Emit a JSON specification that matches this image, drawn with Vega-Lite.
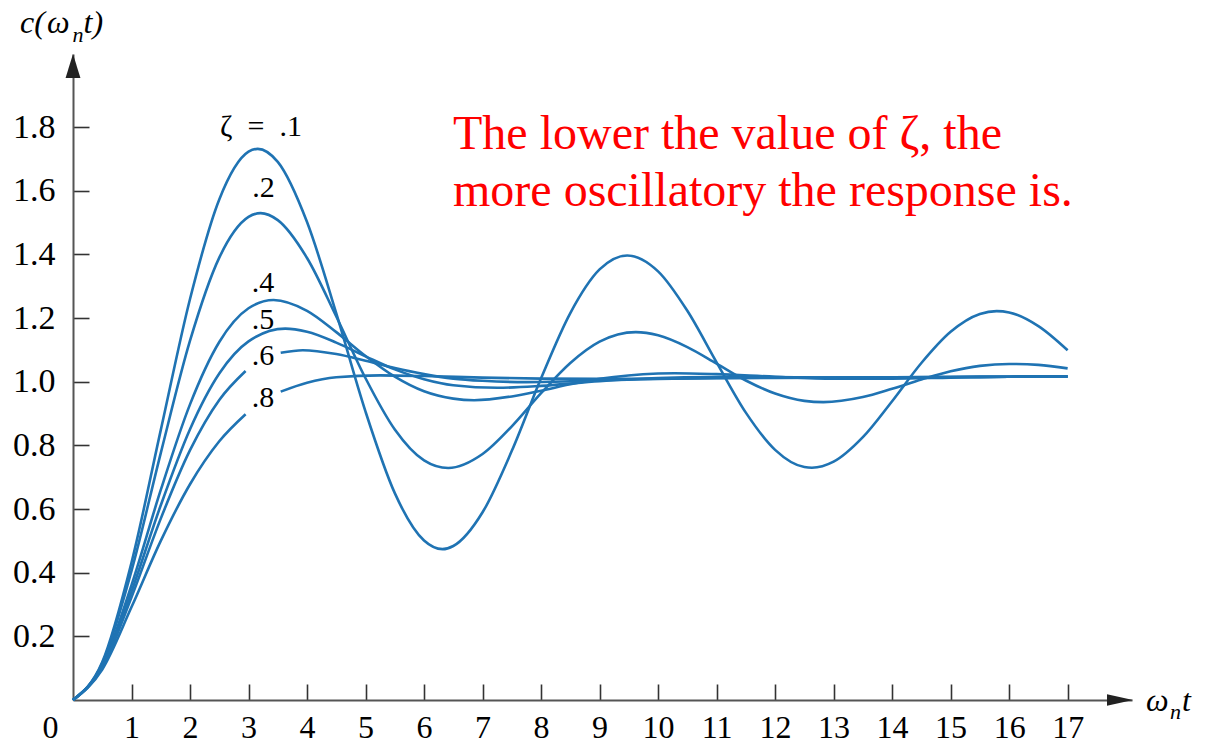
{
  "$schema": "https://vega.github.io/schema/vega-lite/v6.json",
  "width": 1059,
  "height": 646,
  "autosize": {"type": "none"},
  "padding": {"left": 73, "top": 54, "right": 89, "bottom": 46},
  "background": "#ffffff",
  "config": {"view": {"stroke": null}, "font": "Liberation Serif"},
  "datasets": {
    "curves": [
      {"curve": "0.1", "t": 0, "c": 0}, {"curve": "0.1", "t": 0.5, "c": 0.119}, {"curve": "0.1", "t": 1, "c": 0.432}, {"curve": "0.1", "t": 1.5, "c": 0.848}, {"curve": "0.1", "t": 2, "c": 1.26}, {"curve": "0.1", "t": 2.5, "c": 1.573}, {"curve": "0.1", "t": 3, "c": 1.723}, {"curve": "0.1", "t": 3.157, "c": 1.732}, {"curve": "0.1", "t": 3.5, "c": 1.691}, {"curve": "0.1", "t": 4, "c": 1.502}, {"curve": "0.1", "t": 4.5, "c": 1.215}, {"curve": "0.1", "t": 5, "c": 0.906}, {"curve": "0.1", "t": 5.5, "c": 0.65}, {"curve": "0.1", "t": 6, "c": 0.501}, {"curve": "0.1", "t": 6.315, "c": 0.474}, {"curve": "0.1", "t": 6.5, "c": 0.484}, {"curve": "0.1", "t": 7, "c": 0.59}, {"curve": "0.1", "t": 7.5, "c": 0.783}, {"curve": "0.1", "t": 8, "c": 1.011}, {"curve": "0.1", "t": 8.5, "c": 1.216}, {"curve": "0.1", "t": 9, "c": 1.353}, {"curve": "0.1", "t": 9.472, "c": 1.397}, {"curve": "0.1", "t": 10, "c": 1.347}, {"curve": "0.1", "t": 10.5, "c": 1.223}, {"curve": "0.1", "t": 11, "c": 1.061}, {"curve": "0.1", "t": 11.5, "c": 0.903}, {"curve": "0.1", "t": 12, "c": 0.786}, {"curve": "0.1", "t": 12.5, "c": 0.732}, {"curve": "0.1", "t": 12.63, "c": 0.73}, {"curve": "0.1", "t": 13, "c": 0.749}, {"curve": "0.1", "t": 13.5, "c": 0.826}, {"curve": "0.1", "t": 14, "c": 0.939}, {"curve": "0.1", "t": 14.5, "c": 1.059}, {"curve": "0.1", "t": 15, "c": 1.157}, {"curve": "0.1", "t": 15.5, "c": 1.213}, {"curve": "0.1", "t": 15.787, "c": 1.222}, {"curve": "0.1", "t": 16, "c": 1.218}, {"curve": "0.1", "t": 16.5, "c": 1.175}, {"curve": "0.1", "t": 17, "c": 1.099},
      {"curve": "0.2", "t": 0, "c": 0}, {"curve": "0.2", "t": 0.5, "c": 0.115}, {"curve": "0.2", "t": 1, "c": 0.406}, {"curve": "0.2", "t": 1.5, "c": 0.776}, {"curve": "0.2", "t": 2, "c": 1.129}, {"curve": "0.2", "t": 2.5, "c": 1.39}, {"curve": "0.2", "t": 3, "c": 1.518}, {"curve": "0.2", "t": 3.206, "c": 1.53}, {"curve": "0.2", "t": 3.5, "c": 1.508}, {"curve": "0.2", "t": 4, "c": 1.389}, {"curve": "0.2", "t": 4.5, "c": 1.205}, {"curve": "0.2", "t": 5, "c": 1.011}, {"curve": "0.2", "t": 5.5, "c": 0.85}, {"curve": "0.2", "t": 6, "c": 0.753}, {"curve": "0.2", "t": 6.413, "c": 0.729}, {"curve": "0.2", "t": 7, "c": 0.773}, {"curve": "0.2", "t": 7.5, "c": 0.86}, {"curve": "0.2", "t": 8, "c": 0.964}, {"curve": "0.2", "t": 8.5, "c": 1.059}, {"curve": "0.2", "t": 9, "c": 1.126}, {"curve": "0.2", "t": 9.619, "c": 1.156}, {"curve": "0.2", "t": 10, "c": 1.146}, {"curve": "0.2", "t": 10.5, "c": 1.109}, {"curve": "0.2", "t": 11, "c": 1.057}, {"curve": "0.2", "t": 11.5, "c": 1.004}, {"curve": "0.2", "t": 12, "c": 0.963}, {"curve": "0.2", "t": 12.5, "c": 0.94}, {"curve": "0.2", "t": 12.825, "c": 0.936}, {"curve": "0.2", "t": 13.5, "c": 0.952}, {"curve": "0.2", "t": 14, "c": 0.978}, {"curve": "0.2", "t": 14.5, "c": 1.007}, {"curve": "0.2", "t": 15, "c": 1.033}, {"curve": "0.2", "t": 15.5, "c": 1.05}, {"curve": "0.2", "t": 16, "c": 1.056}, {"curve": "0.2", "t": 16.5, "c": 1.053}, {"curve": "0.2", "t": 17, "c": 1.042},
      {"curve": "0.4", "t": 0, "c": 0}, {"curve": "0.4", "t": 0.5, "c": 0.108}, {"curve": "0.4", "t": 1, "c": 0.361}, {"curve": "0.4", "t": 1.5, "c": 0.66}, {"curve": "0.4", "t": 2, "c": 0.929}, {"curve": "0.4", "t": 2.5, "c": 1.125}, {"curve": "0.4", "t": 3, "c": 1.231}, {"curve": "0.4", "t": 3.428, "c": 1.257}, {"curve": "0.4", "t": 4, "c": 1.223}, {"curve": "0.4", "t": 4.5, "c": 1.156}, {"curve": "0.4", "t": 5, "c": 1.081}, {"curve": "0.4", "t": 5.5, "c": 1.016}, {"curve": "0.4", "t": 6, "c": 0.97}, {"curve": "0.4", "t": 6.5, "c": 0.947}, {"curve": "0.4", "t": 6.856, "c": 0.942}, {"curve": "0.4", "t": 7.5, "c": 0.954}, {"curve": "0.4", "t": 8, "c": 0.972}, {"curve": "0.4", "t": 8.5, "c": 0.992}, {"curve": "0.4", "t": 9, "c": 1.009}, {"curve": "0.4", "t": 10, "c": 1.026}, {"curve": "0.4", "t": 10.283, "c": 1.027}, {"curve": "0.4", "t": 11, "c": 1.024}, {"curve": "0.4", "t": 12, "c": 1.016}, {"curve": "0.4", "t": 13, "c": 1.01}, {"curve": "0.4", "t": 14, "c": 1.01}, {"curve": "0.4", "t": 15, "c": 1.013}, {"curve": "0.4", "t": 16, "c": 1.016}, {"curve": "0.4", "t": 17, "c": 1.017},
      {"curve": "0.5", "t": 0, "c": 0}, {"curve": "0.5", "t": 0.5, "c": 0.105}, {"curve": "0.5", "t": 1, "c": 0.341}, {"curve": "0.5", "t": 1.5, "c": 0.612}, {"curve": "0.5", "t": 2, "c": 0.851}, {"curve": "0.5", "t": 2.5, "c": 1.026}, {"curve": "0.5", "t": 3, "c": 1.127}, {"curve": "0.5", "t": 3.628, "c": 1.167}, {"curve": "0.5", "t": 4, "c": 1.157}, {"curve": "0.5", "t": 4.5, "c": 1.123}, {"curve": "0.5", "t": 5, "c": 1.08}, {"curve": "0.5", "t": 5.5, "c": 1.039}, {"curve": "0.5", "t": 6, "c": 1.008}, {"curve": "0.5", "t": 6.5, "c": 0.989}, {"curve": "0.5", "t": 7.255, "c": 0.981}, {"curve": "0.5", "t": 8, "c": 0.987}, {"curve": "0.5", "t": 9, "c": 1.002}, {"curve": "0.5", "t": 10, "c": 1.012}, {"curve": "0.5", "t": 10.883, "c": 1.015}, {"curve": "0.5", "t": 12, "c": 1.015}, {"curve": "0.5", "t": 13, "c": 1.013}, {"curve": "0.5", "t": 14, "c": 1.014}, {"curve": "0.5", "t": 15, "c": 1.015}, {"curve": "0.5", "t": 16, "c": 1.016}, {"curve": "0.5", "t": 17, "c": 1.017},
      {"curve": "0.6a", "t": 0, "c": 0}, {"curve": "0.6a", "t": 0.5, "c": 0.102}, {"curve": "0.6a", "t": 1, "c": 0.323}, {"curve": "0.6a", "t": 1.5, "c": 0.57}, {"curve": "0.6a", "t": 2, "c": 0.785}, {"curve": "0.6a", "t": 2.5, "c": 0.943}, {"curve": "0.6a", "t": 2.95, "c": 1.034},
      {"curve": "0.6b", "t": 3.55, "c": 1.091}, {"curve": "0.6b", "t": 3.927, "c": 1.099}, {"curve": "0.6b", "t": 4.5, "c": 1.087}, {"curve": "0.6b", "t": 5, "c": 1.066}, {"curve": "0.6b", "t": 5.5, "c": 1.043}, {"curve": "0.6b", "t": 6, "c": 1.024}, {"curve": "0.6b", "t": 6.5, "c": 1.01}, {"curve": "0.6b", "t": 7, "c": 1.003}, {"curve": "0.6b", "t": 7.75, "c": 0.999}, {"curve": "0.6b", "t": 9, "c": 1.004}, {"curve": "0.6b", "t": 10, "c": 1.009}, {"curve": "0.6b", "t": 11, "c": 1.012}, {"curve": "0.6b", "t": 12, "c": 1.013}, {"curve": "0.6b", "t": 13, "c": 1.0135}, {"curve": "0.6b", "t": 14, "c": 1.014}, {"curve": "0.6b", "t": 15, "c": 1.015}, {"curve": "0.6b", "t": 16, "c": 1.016}, {"curve": "0.6b", "t": 17, "c": 1.017},
      {"curve": "0.8a", "t": 0, "c": 0}, {"curve": "0.8a", "t": 0.5, "c": 0.096}, {"curve": "0.8a", "t": 1, "c": 0.292}, {"curve": "0.8a", "t": 1.5, "c": 0.5}, {"curve": "0.8a", "t": 2, "c": 0.678}, {"curve": "0.8a", "t": 2.5, "c": 0.813}, {"curve": "0.8a", "t": 2.95, "c": 0.898},
      {"curve": "0.8b", "t": 3.55, "c": 0.969}, {"curve": "0.8b", "t": 4, "c": 0.997}, {"curve": "0.8b", "t": 4.5, "c": 1.014}, {"curve": "0.8b", "t": 5.25, "c": 1.02}, {"curve": "0.8b", "t": 6, "c": 1.018}, {"curve": "0.8b", "t": 7, "c": 1.013}, {"curve": "0.8b", "t": 8, "c": 1.01}, {"curve": "0.8b", "t": 9, "c": 1.009}, {"curve": "0.8b", "t": 10, "c": 1.0095}, {"curve": "0.8b", "t": 11, "c": 1.011}, {"curve": "0.8b", "t": 12, "c": 1.012}, {"curve": "0.8b", "t": 13, "c": 1.013}, {"curve": "0.8b", "t": 14, "c": 1.014}, {"curve": "0.8b", "t": 15, "c": 1.015}, {"curve": "0.8b", "t": 16, "c": 1.016}, {"curve": "0.8b", "t": 17, "c": 1.017}
    ],
    "arrows": [
      {"axis": "x", "t": 17.895, "c": 0},
      {"axis": "y", "t": 0, "c": 1.992}
    ],
    "labels": [
      {"role": "zeta", "t": 3.213, "c": 1.772, "text": "ζ\u2002=\u2002.1"},
      {"role": "zeta", "t": 3.256, "c": 1.581, "text": ".2"},
      {"role": "zeta", "t": 3.247, "c": 1.282, "text": ".4"},
      {"role": "zeta", "t": 3.247, "c": 1.166, "text": ".5"},
      {"role": "zeta", "t": 3.247, "c": 1.053, "text": ".6"},
      {"role": "zeta", "t": 3.247, "c": 0.921, "text": ".8"},
      {"role": "note", "t": 6.495, "c": 1.731, "text": "The lower the value of ζ, the"},
      {"role": "note", "t": 6.495, "c": 1.552, "text": "more oscillatory the response is."},
      {"role": "big", "t": -0.906, "c": 2.096, "text": "c("},
      {"role": "big", "t": -0.444, "c": 2.096, "text": "ω"},
      {"role": "sub", "t": -0.01, "c": 2.068, "text": "n"},
      {"role": "big", "t": 0.18, "c": 2.096, "text": "t)"},
      {"role": "big", "t": 18.339, "c": -0.0346, "text": "ω"},
      {"role": "sub", "t": 18.749, "c": -0.0597, "text": "n"},
      {"role": "big", "t": 18.955, "c": -0.0346, "text": "t"}
    ]
  },
  "encoding": {
    "x": {
      "field": "t", "type": "quantitative",
      "scale": {"domain": [0, 18.1], "nice": false, "zero": false},
      "axis": {
        "values": [0, 1, 2, 3, 4, 5, 6, 7, 8, 9, 10, 11, 12, 13, 14, 15, 16, 17],
        "title": null, "grid": false,
        "domainColor": "#555555", "domainWidth": 2,
        "tickColor": "#333333", "tickWidth": 1.6, "tickSize": -16,
        "tickOpacity": {"condition": {"test": "datum.value === 0", "value": 0}, "value": 1},
        "labelOffset": {"condition": {"test": "datum.value === 0", "value": -23}, "value": 0},
        "labelPadding": 28, "labelFont": "Liberation Serif", "labelFontSize": 32,
        "labelColor": "#000000", "labelFlush": false, "labelOverlap": false, "labelBound": false
      }
    },
    "y": {
      "field": "c", "type": "quantitative",
      "scale": {"domain": [0, 2.03], "nice": false, "zero": false},
      "axis": {
        "values": [0.2, 0.4, 0.6, 0.8, 1.0, 1.2, 1.4, 1.6, 1.8],
        "format": ".1f",
        "title": null, "grid": false,
        "domainColor": "#555555", "domainWidth": 2,
        "tickColor": "#333333", "tickWidth": 1.6, "tickSize": -16,
        "labelPadding": 34, "labelFont": "Liberation Serif", "labelFontSize": 34,
        "labelColor": "#000000", "labelFlush": false, "labelOverlap": false
      }
    }
  },
  "layer": [
    {
      "data": {"name": "curves"},
      "mark": {"type": "line", "interpolate": "monotone", "strokeWidth": 2.6, "color": "#1f73b3"},
      "encoding": {"detail": {"field": "curve"}}
    },
    {
      "data": {"name": "arrows"},
      "transform": [{"filter": "datum.axis === 'x'"}],
      "mark": {"type": "point", "shape": "M 1 0 L -1 -0.44 L -1 0.44 Z", "size": 676, "filled": true, "color": "#222222", "opacity": 1, "strokeWidth": 0}
    },
    {
      "data": {"name": "arrows"},
      "transform": [{"filter": "datum.axis === 'y'"}],
      "mark": {"type": "point", "shape": "M 0 -1 L -0.62 1 L 0.62 1 Z", "size": 576, "filled": true, "color": "#222222", "opacity": 1, "strokeWidth": 0}
    },
    {
      "data": {"name": "labels"},
      "transform": [{"filter": "datum.role === 'zeta'"}],
      "mark": {"type": "text", "align": "center", "baseline": "alphabetic", "font": "Liberation Serif", "fontSize": 30, "color": "#000000"},
      "encoding": {"text": {"field": "text"}}
    },
    {
      "data": {"name": "labels"},
      "transform": [{"filter": "datum.role === 'note'"}],
      "mark": {"type": "text", "align": "left", "baseline": "alphabetic", "font": "Liberation Serif", "fontSize": 48, "color": "#ff0000"},
      "encoding": {"text": {"field": "text"}}
    },
    {
      "data": {"name": "labels"},
      "transform": [{"filter": "datum.role === 'big'"}],
      "mark": {"type": "text", "align": "left", "baseline": "alphabetic", "font": "Liberation Serif", "fontStyle": "italic", "fontSize": 32, "color": "#000000"},
      "encoding": {"text": {"field": "text"}}
    },
    {
      "data": {"name": "labels"},
      "transform": [{"filter": "datum.role === 'sub'"}],
      "mark": {"type": "text", "align": "left", "baseline": "alphabetic", "font": "Liberation Serif", "fontStyle": "italic", "fontSize": 22, "color": "#000000"},
      "encoding": {"text": {"field": "text"}}
    }
  ]
}
